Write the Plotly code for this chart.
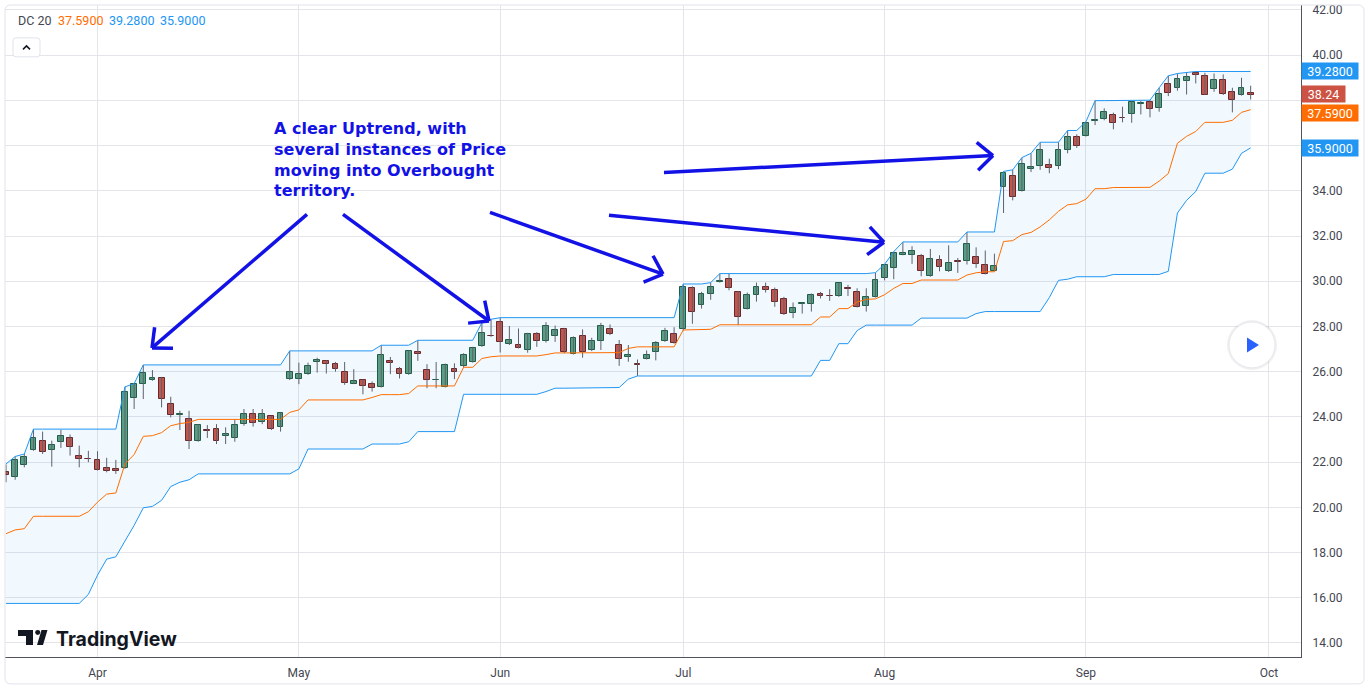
import math
import pandas as pd
import plotly.graph_objects as go

# ---------------- data ----------------
holidays = ["2019-05-27", "2019-07-04", "2019-09-02"]
calendar = pd.bdate_range("2019-03-18", "2019-10-01", freq="C", holidays=holidays)

open_ = [21.55, 21.35, 21.87, 22.54, 22.93, 22.54, 22.91, 23.07, 22.27, 22.16,
         22.10, 21.75, 21.70, 21.72, 24.83, 25.45, 25.63, 25.72, 24.57, 24.08,
         23.89, 22.95, 23.40, 23.46, 23.14, 23.07, 23.68, 24.13, 23.77, 24.02,
         23.57, 25.67, 25.67, 25.89, 26.42, 26.46, 26.33, 25.99, 25.46, 25.63,
         25.45, 25.33, 26.46, 26.11, 25.89, 26.86, 26.07, 25.62, 25.34, 26.11,
         26.23, 26.45, 27.13, 27.60, 28.21, 27.21, 27.18, 26.97, 27.65, 27.34,
         27.56, 27.91, 26.79, 27.56, 26.97, 27.38, 27.87, 27.18, 26.66, 26.32,
         26.57, 26.88, 27.35, 27.66, 27.87, 29.71, 28.93, 29.43, 29.97, 30.09,
         29.53, 28.79, 29.38, 29.74, 29.60, 29.21, 28.59, 28.99, 28.99, 29.43,
         29.35, 29.34, 29.69, 29.51, 28.90, 29.31, 30.16, 30.60, 31.18, 31.18,
         31.10, 30.25, 30.96, 30.44, 30.88, 30.91, 31.09, 30.74, 30.47, 34.18,
         34.66, 34.00, 34.97, 35.11, 35.15, 35.08, 35.82, 36.40, 36.43, 37.07,
         37.16, 37.35, 37.22, 37.40, 37.85, 37.91, 37.65, 38.72, 38.53, 38.85,
         39.21, 39.07, 38.50, 38.90, 38.37, 38.24, 38.32]
high = [21.90, 22.25, 22.36, 23.46, 23.35, 22.95, 23.43, 23.22, 22.73, 22.50,
        22.48, 22.19, 22.10, 25.33, 25.47, 26.30, 26.07, 25.77, 24.89, 24.27,
        24.27, 23.68, 23.64, 23.68, 23.54, 23.90, 24.35, 24.35, 24.35, 24.05,
        24.20, 26.92, 26.40, 26.40, 26.62, 26.51, 26.43, 26.43, 26.11, 25.67,
        25.57, 27.17, 26.65, 26.21, 26.95, 27.39, 26.33, 26.43, 26.36, 26.37,
        26.82, 27.10, 28.17, 28.32, 28.39, 28.02, 27.91, 27.72, 27.75, 28.19,
        28.04, 27.94, 27.56, 27.87, 27.50, 28.16, 28.09, 27.40, 27.18, 26.54,
        26.94, 27.35, 27.94, 27.97, 29.88, 29.78, 29.53, 29.94, 30.34, 30.34,
        29.57, 29.50, 29.94, 29.94, 29.72, 29.31, 29.06, 29.06, 29.46, 29.53,
        29.65, 29.94, 29.84, 29.69, 29.69, 30.38, 30.75, 31.31, 31.74, 31.55,
        31.21, 31.43, 31.15, 31.59, 31.03, 32.18, 31.50, 31.36, 31.22, 34.86,
        34.93, 35.47, 35.66, 36.15, 35.42, 36.15, 36.67, 36.50, 37.06, 37.99,
        37.65, 37.46, 37.72, 37.97, 37.97, 38.01, 38.56, 39.09, 39.19, 39.24,
        39.28, 39.22, 39.19, 39.15, 38.56, 39.00, 38.65]
low = [21.11, 21.22, 21.77, 22.50, 22.36, 21.80, 22.63, 22.29, 21.77, 22.00,
       21.63, 21.55, 21.48, 21.70, 24.35, 24.79, 25.60, 24.42, 23.98, 23.42,
       22.58, 22.90, 23.07, 22.80, 22.80, 22.90, 23.61, 23.57, 23.68, 23.42,
       23.35, 25.63, 25.45, 25.86, 25.96, 25.92, 26.00, 25.42, 25.45, 25.00,
       25.12, 25.30, 25.89, 25.70, 25.86, 26.48, 25.27, 25.27, 25.30, 25.67,
       26.18, 26.40, 27.10, 27.54, 26.85, 27.18, 27.03, 26.84, 27.10, 27.29,
       27.32, 26.82, 26.76, 26.62, 26.91, 26.96, 27.62, 26.26, 26.44, 25.81,
       26.54, 26.50, 27.32, 27.24, 27.82, 28.12, 28.79, 29.18, 29.94, 29.60,
       28.06, 28.75, 29.10, 29.50, 28.87, 28.51, 28.37, 28.57, 28.66, 29.24,
       29.13, 29.31, 29.35, 28.84, 28.66, 29.28, 30.04, 30.09, 31.15, 30.77,
       30.22, 30.20, 30.44, 30.41, 30.37, 30.74, 30.59, 30.30, 30.44, 33.02,
       33.58, 33.97, 34.83, 34.93, 34.78, 34.96, 35.66, 35.90, 36.40, 36.91,
       37.12, 36.72, 37.03, 37.01, 37.38, 37.25, 37.50, 38.19, 38.43, 38.26,
       38.75, 38.24, 38.38, 38.24, 37.47, 38.21, 38.04]
close = [21.44, 22.10, 22.21, 23.07, 22.45, 22.76, 23.16, 22.67, 22.14, 22.13,
         21.67, 21.61, 21.60, 25.11, 25.45, 25.94, 25.73, 24.79, 24.08, 24.12,
         22.95, 23.64, 23.37, 22.93, 23.24, 23.64, 24.13, 23.74, 24.13, 23.46,
         24.17, 25.99, 25.89, 26.24, 26.51, 26.33, 26.10, 25.51, 25.58, 25.36,
         25.27, 26.73, 26.38, 25.89, 26.92, 26.77, 25.63, 25.64, 26.30, 26.00,
         26.73, 27.04, 27.73, 27.57, 27.33, 27.39, 27.07, 27.65, 27.34, 28.00,
         27.85, 26.85, 27.51, 26.85, 27.38, 28.04, 27.65, 26.54, 26.76, 26.30,
         26.74, 27.28, 27.82, 27.28, 29.74, 28.65, 29.43, 29.75, 30.00, 29.72,
         28.44, 29.38, 29.75, 29.60, 29.10, 28.54, 28.81, 29.02, 29.38, 29.34,
         29.33, 29.91, 29.67, 28.87, 29.32, 30.07, 30.71, 31.26, 31.23, 31.35,
         30.44, 31.00, 30.62, 30.81, 30.86, 31.65, 30.78, 30.34, 30.69, 34.81,
         33.72, 35.19, 35.06, 35.82, 35.03, 35.82, 36.36, 35.99, 37.01, 37.13,
         37.50, 36.99, 37.20, 37.94, 37.88, 37.62, 38.28, 38.31, 38.94, 39.03,
         39.12, 38.26, 38.90, 38.28, 38.01, 38.56, 38.24]

# Donchian channel (period 20); the first bars also depend on history that is off-screen
dc_period = 20
dc_upper_start = [21.92]
dc_lower_start = [15.75, 15.75, 15.75, 15.75, 15.75, 15.75, 15.75, 15.75, 15.75,
                  16.15, 17.00, 17.71, 17.81, 18.51, 19.20, 19.98, 20.04, 20.31, 20.92]

month_labels = ["Apr", "May", "Jun", "Jul", "Aug", "Sep", "Oct"]
month_numbers = [4, 5, 6, 7, 8, 9, 10]
y_ticks = [14, 16, 18, 20, 22, 24, 26, 28, 30, 32, 34, 36, 38, 40, 42]

note_lines = ["A clear Uptrend, with", "several instances of Price",
              "moving into Overbought", "territory."]

# ---------------- derived ----------------
n = len(close)
x = list(range(n))
month_ticks = [next(i for i, d in enumerate(calendar) if d.month == m) for m in month_numbers]

upper, lower = [], []
for i in range(n):
    a = max(0, i - dc_period + 1)
    u = max(high[a:i + 1])
    l = min(low[a:i + 1])
    if i < len(dc_upper_start):
        u = max(u, dc_upper_start[i])
    if i < len(dc_lower_start):
        l = min(l, dc_lower_start[i])
    upper.append(u)
    lower.append(l)
mid = [(u + l) / 2 for u, l in zip(upper, lower)]

# ---------------- layout geometry ----------------
W, H = 1369, 700
ML, MR, MT, MB = 5, 68, 3, 43
PW, PH = W - ML - MR, H - MT - MB


def px(v):
    return (v - ML) / PW


def py(v):
    return 1 - (v - MT) / PH


BLUE = "#2196F3"
ORANGE = "#FF6D00"
GREEN_FILL, GREEN_LINE = "#5E9E7F", "#1F5A3C"
RED_FILL, RED_LINE = "#CC5243", "#6E1F1F"
WICK = "#5D606B"
GRID = "#E3E5EA"
NOTE = "#1212E6"

fig = go.Figure()

# channel fill
fig.add_trace(go.Scatter(x=x, y=lower, mode="lines", line=dict(width=0, color=BLUE),
                         hoverinfo="skip"))
fig.add_trace(go.Scatter(x=x, y=upper, mode="lines", line=dict(width=0, color=BLUE),
                         fill="tonexty", fillcolor="rgba(33,150,243,0.06)", hoverinfo="skip"))

# wicks
wx, wy = [], []
for i in range(n):
    wx += [x[i], x[i], None]
    wy += [low[i], high[i], None]
fig.add_trace(go.Scatter(x=wx, y=wy, mode="lines", line=dict(width=1, color=WICK),
                         hoverinfo="skip"))

# bodies
up_bar = [c >= o for o, c in zip(open_, close)]
fig.add_trace(go.Bar(
    x=x,
    y=[abs(c - o) for o, c in zip(open_, close)],
    base=[min(o, c) for o, c in zip(open_, close)],
    width=0.64,
    marker=dict(color=[GREEN_FILL if u else RED_FILL for u in up_bar],
                line=dict(color=[GREEN_LINE if u else RED_LINE for u in up_bar], width=1)),
    hoverinfo="skip"))

# channel lines
fig.add_trace(go.Scatter(x=x, y=upper, mode="lines", line=dict(width=1, color=BLUE), hoverinfo="skip"))
fig.add_trace(go.Scatter(x=x, y=lower, mode="lines", line=dict(width=1, color=BLUE), hoverinfo="skip"))
fig.add_trace(go.Scatter(x=x, y=mid, mode="lines", line=dict(width=1, color=ORANGE), hoverinfo="skip"))

shapes = []
annotations = []

# outer rounded frame
x0, y0, x1, y1, r = 5, 3, 1364, 684, 6
frame = (f"M {px(x0 + r)},{py(y0)} L {px(x1 - r)},{py(y0)} Q {px(x1)},{py(y0)} {px(x1)},{py(y0 + r)} "
         f"L {px(x1)},{py(y1 - r)} Q {px(x1)},{py(y1)} {px(x1 - r)},{py(y1)} "
         f"L {px(x0 + r)},{py(y1)} Q {px(x0)},{py(y1)} {px(x0)},{py(y1 - r)} "
         f"L {px(x0)},{py(y0 + r)} Q {px(x0)},{py(y0)} {px(x0 + r)},{py(y0)} Z")
shapes.append(dict(type="path", xref="paper", yref="paper", path=frame,
                   line=dict(color="#E0E3EB", width=1), layer="above"))

# collapse button
bx0, by0, bx1, by1, br = 13, 36, 40, 55, 3
btn = (f"M {px(bx0 + br)},{py(by0)} L {px(bx1 - br)},{py(by0)} Q {px(bx1)},{py(by0)} {px(bx1)},{py(by0 + br)} "
       f"L {px(bx1)},{py(by1 - br)} Q {px(bx1)},{py(by1)} {px(bx1 - br)},{py(by1)} "
       f"L {px(bx0 + br)},{py(by1)} Q {px(bx0)},{py(by1)} {px(bx0)},{py(by1 - br)} "
       f"L {px(bx0)},{py(by0 + br)} Q {px(bx0)},{py(by0)} {px(bx0 + br)},{py(by0)} Z")
shapes.append(dict(type="path", xref="paper", yref="paper", path=btn, fillcolor="white",
                   line=dict(color="#E0E3EB", width=1), layer="above"))
shapes.append(dict(type="path", xref="paper", yref="paper",
                   path=f"M {px(23)},{py(47.5)} L {px(26.5)},{py(44)} L {px(30)},{py(47.5)}",
                   line=dict(color="#131722", width=1.5), layer="above"))

# arrows (pixel positions of tail and tip)
arrows = [((307, 213), (152, 347)), ((343, 213), (489, 320)), ((490, 211), (663, 273)),
          ((609, 214), (884, 241)), ((664, 171), (993, 154))]
for (tx, ty), (hx, hy) in arrows:
    shapes.append(dict(type="line", xref="paper", yref="paper", x0=px(tx), y0=py(ty),
                       x1=px(hx), y1=py(hy), line=dict(color=NOTE, width=3.5), layer="above"))
    dx, dy = tx - hx, ty - hy
    d = math.hypot(dx, dy)
    ux, uy = dx / d, dy / d
    for sgn in (1, -1):
        ang = math.radians(42) * sgn
        rx = ux * math.cos(ang) - uy * math.sin(ang)
        ry = ux * math.sin(ang) + uy * math.cos(ang)
        shapes.append(dict(type="line", xref="paper", yref="paper", x0=px(hx), y0=py(hy),
                           x1=px(hx + rx * 21), y1=py(hy + ry * 21),
                           line=dict(color=NOTE, width=3.5), layer="above"))

# note text (one block, line spacing set by the font size)
annotations.append(dict(xref="paper", yref="paper", x=px(272), y=py(158),
                        xanchor="left", yanchor="middle", showarrow=False, align="left",
                        text="<br>".join(note_lines),
                        font=dict(family="DejaVu Sans", size=16, color=NOTE, weight="bold")))

# legend line
legend_items = [("DC 20", "#434651", 16), (f"{mid[-1]:.4f}", ORANGE, 56),
                (f"{upper[-1]:.4f}", BLUE, 107), (f"{lower[-1]:.4f}", BLUE, 158)]
for txt, col, lx in legend_items:
    annotations.append(dict(xref="paper", yref="paper", x=px(lx), y=py(19), xanchor="left",
                            yanchor="middle", showarrow=False, text=txt,
                            font=dict(family="Roboto", size=12.5, color=col)))

# price labels on the axis
price_labels = [(f"{upper[-1]:.4f}", upper[-1], BLUE, 54, 0),
                (f"{close[-1]:.2f}", close[-1], RED_FILL, 41, 1),
                (f"{mid[-1]:.4f}", mid[-1], ORANGE, 54, -3),
                (f"{lower[-1]:.4f}", lower[-1], BLUE, 54, 0)]
for txt, val, col, wdt, ys in price_labels:
    annotations.append(dict(xref="paper", yref="y", x=1, y=val, xanchor="left", yanchor="middle",
                            showarrow=False, text=txt, bgcolor=col, width=wdt, height=14,
                            borderpad=1, yshift=ys, align="center",
                            font=dict(family="Roboto", size=12.5, color="white")))

# tick labels hidden behind the price labels in the reference
label_values = [p[1] for p in price_labels]
y_ticktext = ["" if any(abs(v - lv) < 0.5 for lv in label_values) else f"{v:.2f}" for v in y_ticks]

# TradingView mark
shapes.append(dict(type="path", xref="paper", yref="paper",
                   path=(f"M {px(18)},{py(630)} L {px(33)},{py(630)} L {px(33)},{py(645)} "
                         f"L {px(26)},{py(645)} L {px(26)},{py(636)} L {px(18)},{py(636)} Z"),
                   fillcolor="#131722", line=dict(width=0), layer="above"))
shapes.append(dict(type="circle", xref="paper", yref="paper", x0=px(35.2), x1=px(40.2),
                   y0=py(635), y1=py(630), fillcolor="#131722", line=dict(width=0), layer="above"))
shapes.append(dict(type="path", xref="paper", yref="paper",
                   path=(f"M {px(41.5)},{py(630)} L {px(47.5)},{py(630)} L {px(43)},{py(645)} "
                         f"L {px(37)},{py(645)} Z"),
                   fillcolor="#131722", line=dict(width=0), layer="above"))
annotations.append(dict(xref="paper", yref="paper", x=px(54), y=py(638.5), xanchor="left",
                        yanchor="middle", showarrow=False, text="TradingView",
                        font=dict(family="Inter", size=19.5, color="#131722", weight=700)))

# play button
shapes.append(dict(type="circle", xref="paper", yref="paper", x0=px(1227), x1=px(1277),
                   y0=py(369), y1=py(319), fillcolor="rgba(0,0,0,0.06)", line=dict(width=0), layer="above"))
shapes.append(dict(type="circle", xref="paper", yref="paper", x0=px(1229), x1=px(1275),
                   y0=py(367), y1=py(321), fillcolor="white", line=dict(color="#E6E8EE", width=1),
                   layer="above"))
shapes.append(dict(type="path", xref="paper", yref="paper",
                   path=f"M {px(1247)},{py(336.5)} L {px(1259)},{py(344)} L {px(1247)},{py(351.5)} Z",
                   fillcolor="#2962FF", line=dict(width=0), layer="above"))

fig.update_layout(
    width=W, height=H,
    margin=dict(l=ML, r=MR, t=MT, b=MB),
    paper_bgcolor="white", plot_bgcolor="white",
    showlegend=False,
    bargap=0,
    shapes=shapes,
    annotations=annotations,
    font=dict(family="Roboto", size=12, color="#434651"),
    xaxis=dict(range=[-0.11, 141.5], tickmode="array", tickvals=month_ticks, ticktext=month_labels,
               showgrid=True, gridcolor=GRID, gridwidth=1, zeroline=False, showline=True,
               linecolor="#50535E", linewidth=1, ticks="", ticklabelstandoff=5,
               tickfont=dict(family="Roboto", size=12, color="#434651"), fixedrange=True),
    yaxis=dict(range=[13.38, 42.22], side="right", tickmode="array", tickvals=y_ticks,
               ticktext=y_ticktext, showgrid=True, gridcolor=GRID, gridwidth=1,
               zeroline=False, showline=True, linecolor="#50535E", linewidth=1, ticks="",
               ticklabelstandoff=8, tickfont=dict(family="Roboto", size=12, color="#434651"),
               fixedrange=True),
)

fig.write_html("out.html", config={"displayModeBar": False},
               post_script="document.body.style.margin='0';document.body.style.padding='0';")
